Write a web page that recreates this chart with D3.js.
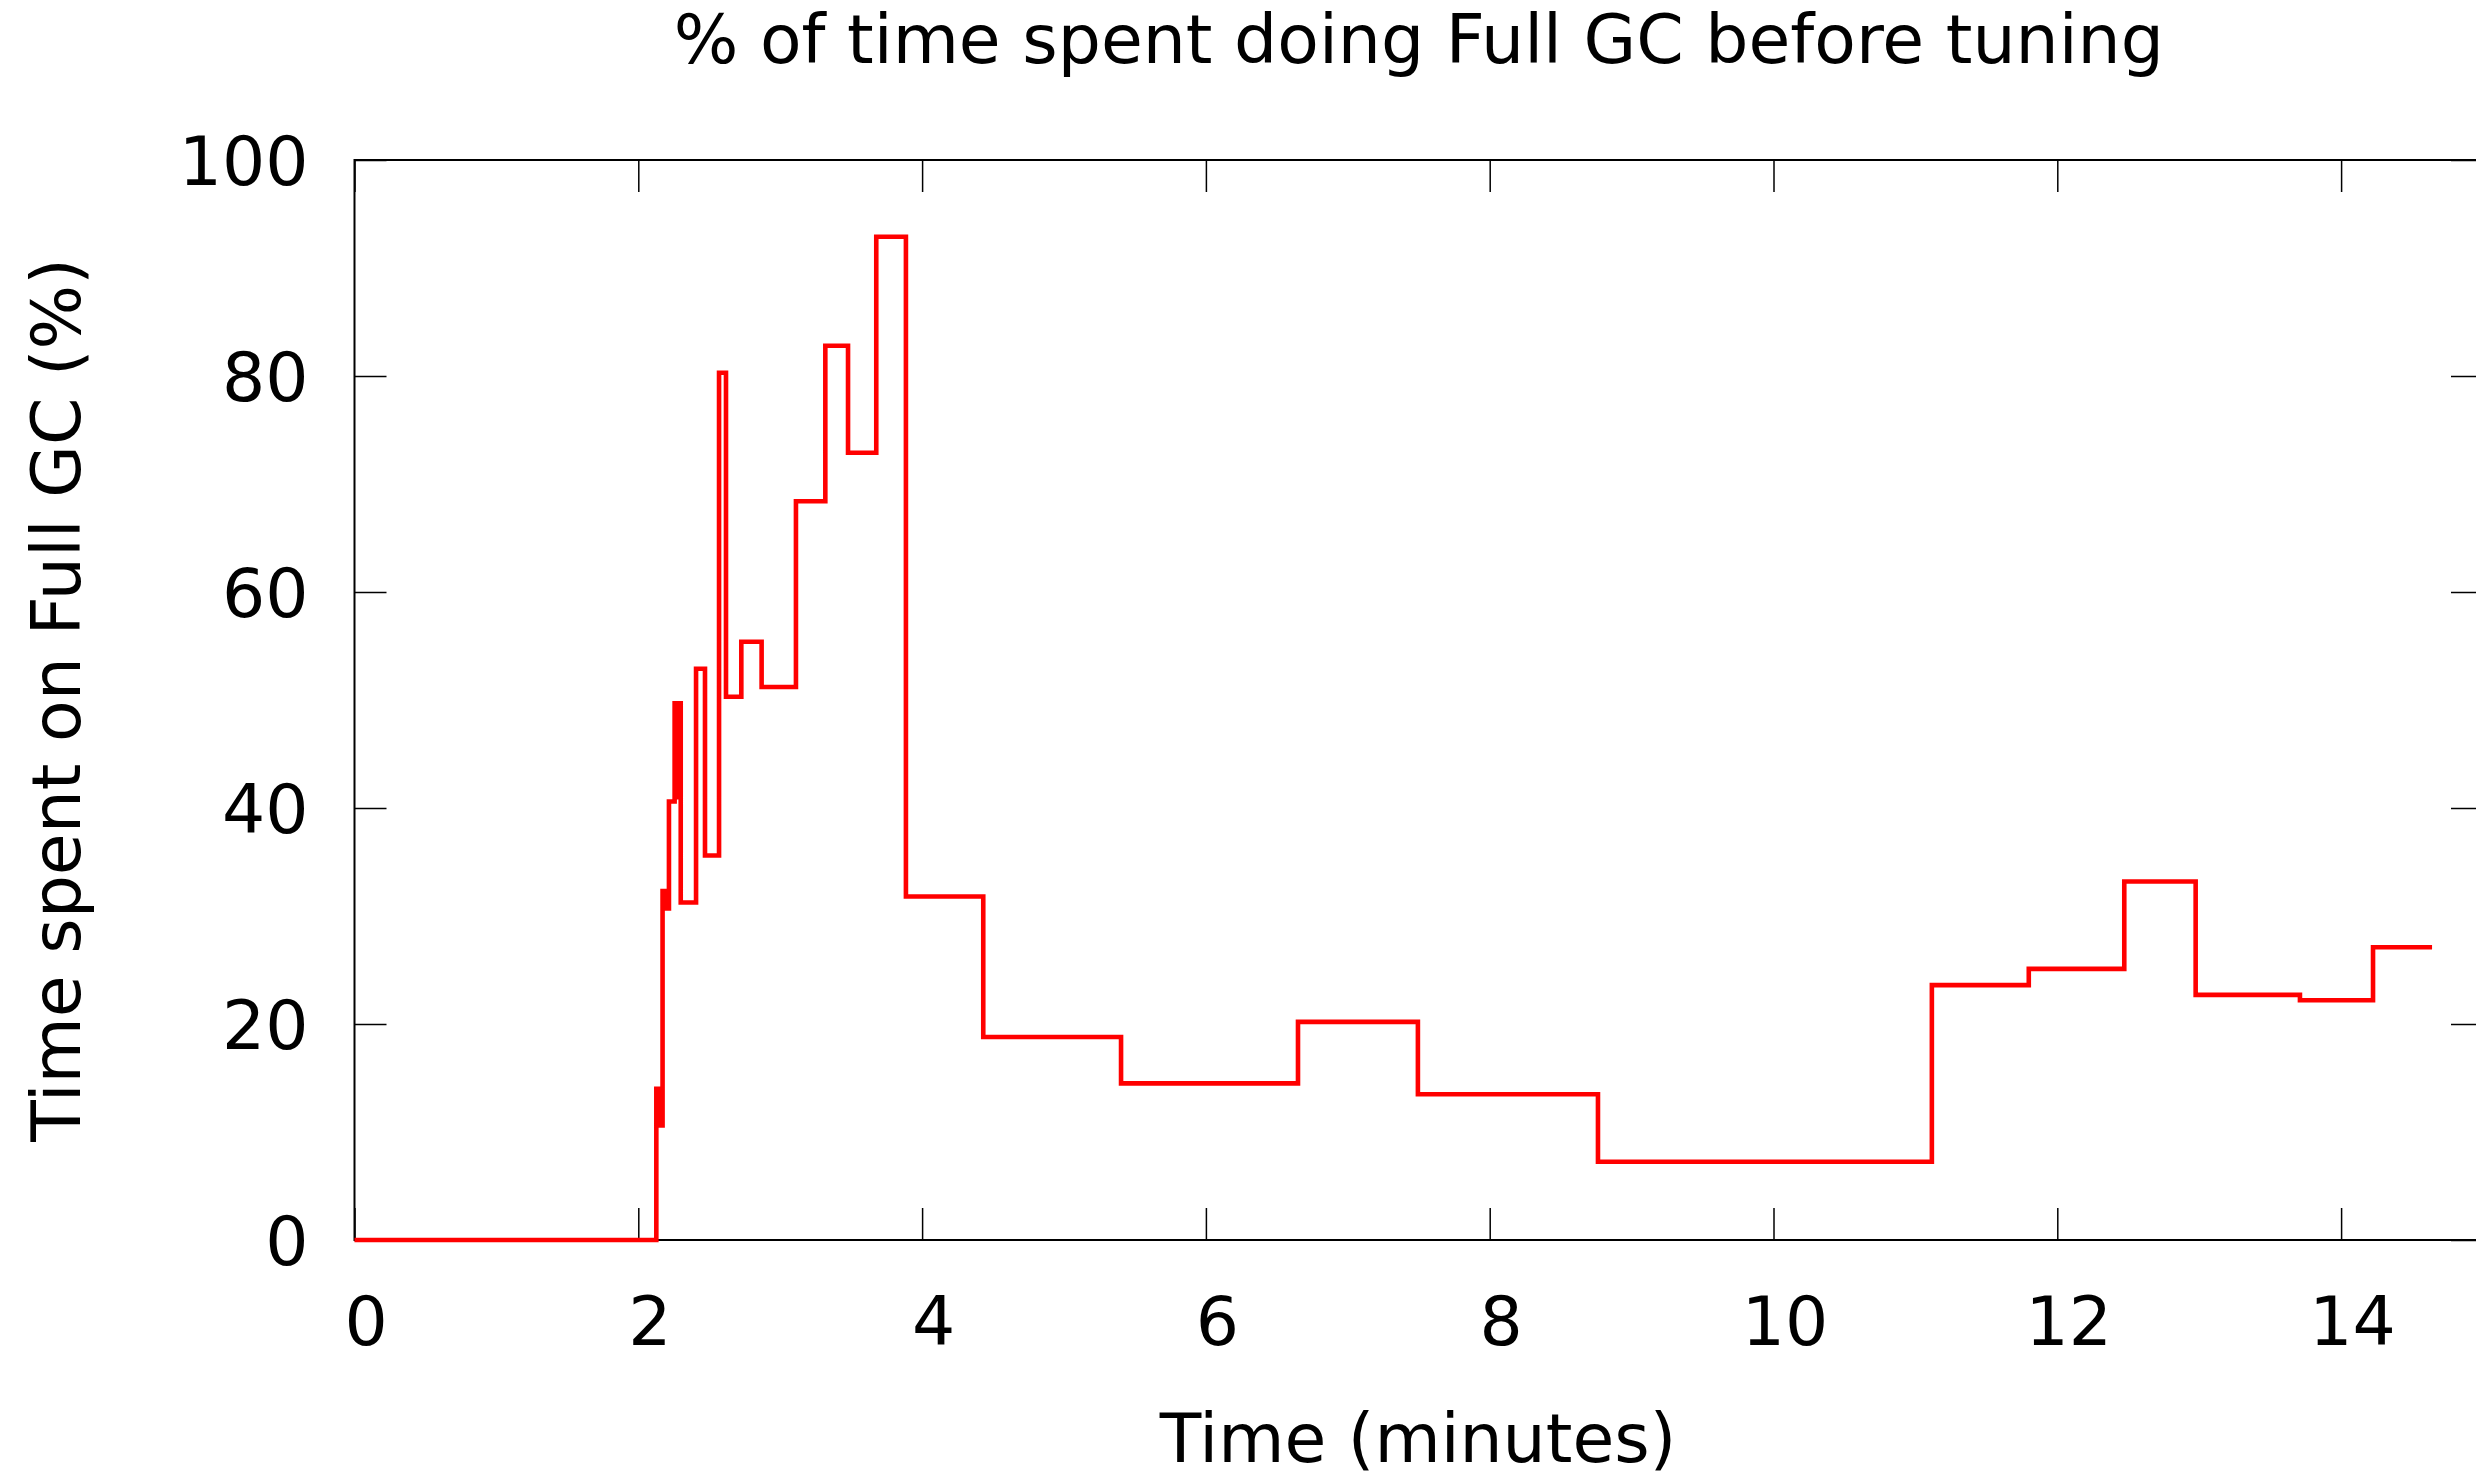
<!DOCTYPE html>
<html>
<head>
<meta charset="utf-8">
<script src="https://cdn.jsdelivr.net/npm/d3@7"></script>
<style>
  html, body { margin: 0; padding: 0; background: #ffffff; overflow: hidden; }
  svg { display: block; }
  text { font-family: "DejaVu Sans", sans-serif; fill: #000; }
</style>
</head>
<body>
<svg id="chart" width="2476" height="1477"></svg>
<script>
// ---- data (minutes, % of time spent in Full GC) ----
const times = [0, 2.127, 2.149, 2.171, 2.195, 2.216, 2.256, 2.271, 2.282, 2.299,
               2.407, 2.470, 2.569, 2.618, 2.726, 2.869, 3.111, 3.318, 3.478, 3.677,
               3.886, 4.431, 5.402, 6.649, 7.494, 8.763, 11.116, 11.799, 12.472, 12.975,
               13.71, 14.225, 14.641];
const values = [0, 14.0, 10.6, 32.3, 30.7, 40.6, 49.7, 41.0, 49.7, 31.25,
                52.9, 35.6, 80.3, 50.3, 55.4, 51.2, 68.4, 82.8, 72.9, 92.9,
                31.8, 18.8, 14.5, 20.2, 13.5, 7.25, 23.6, 25.1, 33.2, 22.7,
                22.2, 27.1, 27.1];
const xTicks = [0, 2, 4, 6, 8, 10, 12, 14];
const yTicks = [0, 20, 40, 60, 80, 100];
const titleText = "% of time spent doing Full GC before tuning";
const xLabel = "Time (minutes)";
const yLabel = "Time spent on Full GC (%)";

// ---- layout ----
const pLeft = 354.5, pRight = 2483, pTop = 160, pBottom = 1240;
const fs = 68;
const svg = d3.select("#chart");

const x = d3.scaleLinear().domain([0, 15]).range([pLeft, pRight]);
const y = d3.scaleLinear().domain([0, 100]).range([pBottom, pTop]);

// border
svg.append("rect")
  .attr("x", pLeft).attr("y", pTop)
  .attr("width", pRight - pLeft).attr("height", pBottom - pTop)
  .attr("fill", "none").attr("stroke", "#000").attr("stroke-width", 2);

const tickLen = 32;

// bottom axis
const gx = svg.append("g").attr("transform", `translate(0,${pBottom})`)
  .call(d3.axisBottom(x).tickValues(xTicks).tickSize(-tickLen).tickSizeOuter(0).tickFormat(d3.format("d")));
gx.select(".domain").remove();
gx.selectAll(".tick line").attr("stroke", "#000").attr("stroke-width", 1.5);
gx.selectAll(".tick text")
  .attr("y", 105).attr("dy", 0).attr("dx", 11)
  .attr("font-size", fs).attr("font-family", "DejaVu Sans");

// top axis (ticks only)
const gt = svg.append("g").attr("transform", `translate(0,${pTop})`)
  .call(d3.axisTop(x).tickValues(xTicks).tickSize(-tickLen).tickSizeOuter(0).tickFormat(""));
gt.select(".domain").remove();
gt.selectAll(".tick line").attr("stroke", "#000").attr("stroke-width", 1.5);

// left axis
const gy = svg.append("g").attr("transform", `translate(${pLeft},0)`)
  .call(d3.axisLeft(y).tickValues(yTicks).tickSize(-tickLen).tickSizeOuter(0).tickPadding(46).tickFormat(d3.format("d")));
gy.select(".domain").remove();
gy.selectAll(".tick line").attr("stroke", "#000").attr("stroke-width", 1.5);
gy.selectAll(".tick text")
  .attr("dy", "0.365em")
  .attr("font-size", fs).attr("font-family", "DejaVu Sans");

// right axis (ticks only)
const gr = svg.append("g").attr("transform", `translate(${pRight},0)`)
  .call(d3.axisRight(y).tickValues(yTicks).tickSize(-tickLen).tickSizeOuter(0).tickFormat(""));
gr.select(".domain").remove();
gr.selectAll(".tick line").attr("stroke", "#000").attr("stroke-width", 1.5);

// data line (step)
const pts = times.map((t, i) => [t, values[i]]);
const line = d3.line().x(d => x(d[0])).y(d => y(d[1])).curve(d3.curveStepAfter);
svg.append("path")
  .datum(pts)
  .attr("d", line)
  .attr("fill", "none")
  .attr("stroke", "#ff0000")
  .attr("stroke-width", 4.6)
  .attr("stroke-linejoin", "miter")
  .attr("stroke-linecap", "butt");

// title & labels
svg.append("text")
  .attr("x", (pLeft + pRight) / 2).attr("y", 63)
  .attr("text-anchor", "middle").attr("font-size", fs)
  .text(titleText);

svg.append("text")
  .attr("x", 1418).attr("y", 1462)
  .attr("text-anchor", "middle").attr("font-size", fs)
  .text(xLabel);

svg.append("text")
  .attr("transform", `translate(80,${(pTop + pBottom) / 2}) rotate(-90)`)
  .attr("text-anchor", "middle").attr("font-size", fs)
  .text(yLabel);
</script>
</body>
</html>
